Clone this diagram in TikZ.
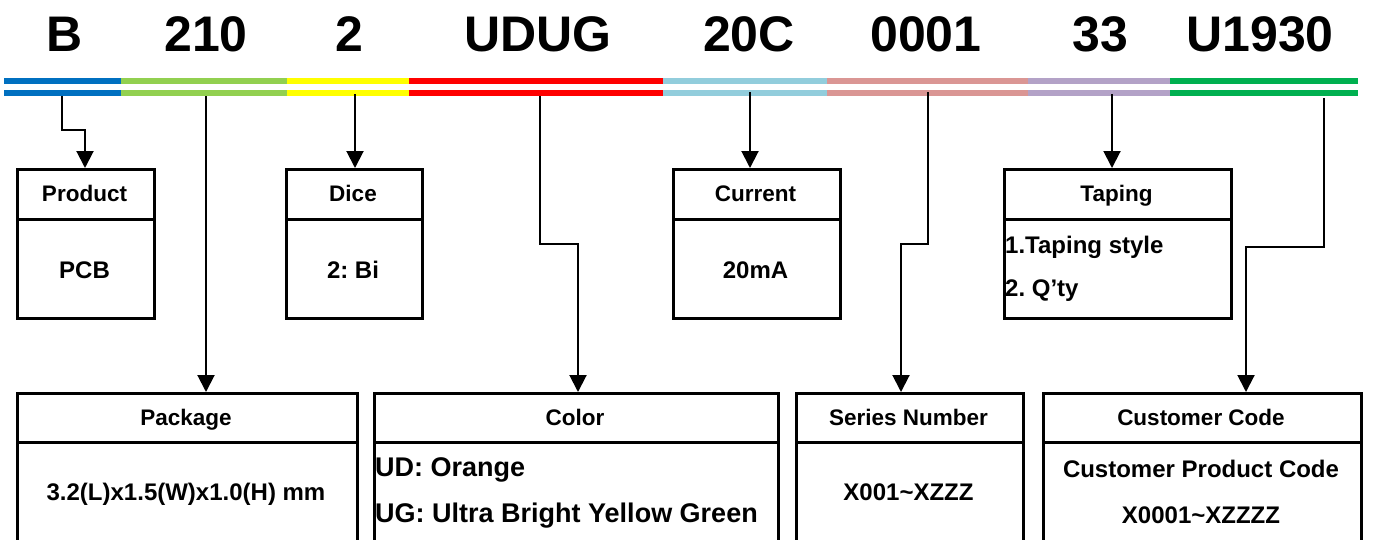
\documentclass[tikz,border=0pt]{standalone}
\usepackage{fontspec}
\setmainfont{Liberation Sans}
\usetikzlibrary{arrows.meta}

\definecolor{barblue}{HTML}{0070C0}
\definecolor{bargreen}{HTML}{92D050}
\definecolor{baryellow}{HTML}{FFFF00}
\definecolor{barred}{HTML}{FF0000}
\definecolor{barcyan}{HTML}{92CDDC}
\definecolor{barpink}{HTML}{DA9694}
\definecolor{barpurple}{HTML}{B3A2C7}
\definecolor{bardark}{HTML}{00B050}

\tikzset{
    box/.style={draw, line width=3pt, inner sep=0pt, anchor=north west},
    rule/.style={line width=3pt},
    head/.style={inner sep=0pt, anchor=base, font=\fontsize{22.5}{27}\selectfont\bfseries\frenchspacing},
    body/.style={inner sep=0pt, anchor=base, font=\fontsize{24}{29}\selectfont\bfseries\frenchspacing},
    bigbody/.style={inner sep=0pt, anchor=base west, font=\fontsize{27}{32}\selectfont\bfseries\frenchspacing},
    code/.style={inner sep=0pt, anchor=base, font=\fontsize{50}{60}\selectfont\bfseries},
    link/.style={line width=2pt, -{Triangle[width=17pt, length=17pt]}}
}

\begin{document}
\begin{tikzpicture}[x=1pt, y=-1pt]

        \useasboundingbox (0, 0) rectangle (1376, 539);
        \clip (0, 0) rectangle (1376, 539);

        % part number
        \node [code] (cprod) at (65, 51) {B};
        \node [code] (cpack) at (206, 51) {210};
        \node [code] (cdice) at (349, 51) {2};
        \node [code] (ccolor) at (538, 51) {UDUG};
        \node [code] (ccur) at (749, 51) {20C};
        \node [code] (cser) at (926, 51) {0001};
        \node [code] (ctap) at (1100, 51) {33};
        \node [code] (ccust) at (1260, 51) {U1930};

        % colour bars
        \foreach \xa/\xb/\c in {4/121/barblue, 121/287/bargreen, 287/409/baryellow, 409/663/barred,
                663/827/barcyan, 827/1028/barpink, 1028/1170/barpurple, 1170/1358/bardark} {
                \fill [\c] (\xa, 78) rectangle (\xb, 84);
                \fill [\c] (\xa, 90) rectangle (\xb, 96);
            }

        % upper boxes
        \node [box, minimum width=137pt, minimum height=149pt] (product) at (16, 168) {};
        \node [box, minimum width=136pt, minimum height=149pt] (dice) at (285, 168) {};
        \node [box, minimum width=167pt, minimum height=149pt] (current) at (672, 168) {};
        \node [box, minimum width=227pt, minimum height=149pt] (taping) at (1003, 168) {};

        \foreach \b in {product, dice, current, taping} {
                \draw [rule] (\b.west |- 0, 219) -- (\b.east |- 0, 219);
            }

        \node [head] (producthead) at (84.5, 201.5) {Product};
        \node [head] (dicehead) at (353, 201.5) {Dice};
        \node [head] (currenthead) at (755.5, 201.5) {Current};
        \node [head] (tapinghead) at (1116.5, 201.5) {Taping};

        \node [body] (productbody) at (84.5, 278.6) {PCB};
        \node [body] (dicebody) at (353, 278.6) {2: Bi};
        \node [body] (currentbody) at (755.5, 278.6) {20mA};
        \node [body, anchor=base west] (tapingone) at (1005, 253.6) {1.Taping style};
        \node [body, anchor=base west] (tapingtwo) at (1005, 296.6) {2. Q'ty};

        % lower boxes
        \node [box, minimum width=340pt, minimum height=170pt] (package) at (16, 392) {};
        \node [box, minimum width=404pt, minimum height=170pt] (color) at (373, 392) {};
        \node [box, minimum width=227pt, minimum height=170pt] (series) at (795, 392) {};
        \node [box, minimum width=318pt, minimum height=170pt] (customer) at (1042, 392) {};

        \foreach \b in {package, color, series, customer} {
                \draw [rule] (\b.west |- 0, 442) -- (\b.east |- 0, 442);
            }

        \node [head] (packagehead) at (186, 425) {Package};
        \node [head] (colorhead) at (575, 425) {Color};
        \node [head] (serieshead) at (908.5, 425) {Series Number};
        \node [head] (customerhead) at (1201, 425) {Customer Code};

        \node [body] (packagebody) at (186, 500) {3.2(L)x1.5(W)x1.0(H) mm};
        \node [bigbody] (colorud) at (375, 476.7) {UD: Orange};
        \node [bigbody] (colorug) at (375, 522.7) {UG: Ultra Bright Yellow Green};
        \node [body] (seriesbody) at (908.5, 500) {X001\textasciitilde XZZZ};
        \node [body] (customerone) at (1201, 477.6) {Customer Product Code};
        \node [body] (customertwo) at (1201, 523.6) {X0001\textasciitilde XZZZZ};

        % connectors
        \coordinate (prodbar) at (62, 96);
        \coordinate (packbar) at (206, 96);
        \coordinate (dicebar) at (355, 94);
        \coordinate (colorbar) at (540, 96);
        \coordinate (curbar) at (750, 92);
        \coordinate (serbar) at (928, 92);
        \coordinate (tapbar) at (1112, 94);
        \coordinate (custbar) at (1324, 98);

        \coordinate (prodbend) at (85, 130);
        \coordinate (colorbend) at (578, 244);
        \coordinate (serbend) at (901, 244);
        \coordinate (custbend) at (1246, 247);

        \draw [link] (prodbar) |- (prodbend) -- (prodbend |- product.north);
        \draw [link] (packbar) -- (packbar |- package.north);
        \draw [link] (dicebar) -- (dicebar |- dice.north);
        \draw [link] (colorbar) |- (colorbend) -- (colorbend |- color.north);
        \draw [link] (curbar) -- (curbar |- current.north);
        \draw [link] (serbar) |- (serbend) -- (serbend |- series.north);
        \draw [link] (tapbar) -- (tapbar |- taping.north);
        \draw [link] (custbar) |- (custbend) -- (custbend |- customer.north);

    \end{tikzpicture}
\end{document}
